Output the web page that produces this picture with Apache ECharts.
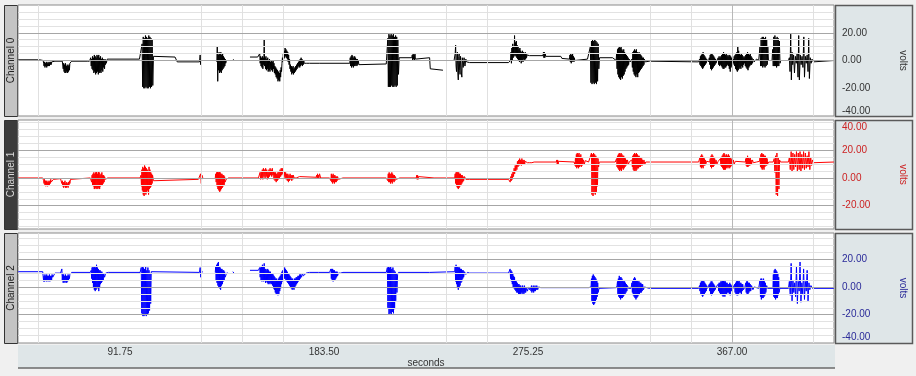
<!DOCTYPE html>
<html>
<head>
<meta charset="utf-8">
<script src="https://cdn.jsdelivr.net/npm/echarts@6/dist/echarts.min.js"></script>
<style>
  html, body { margin: 0; padding: 0; background: #f0f0f0; }
  #chart { width: 916px; height: 376px; }
</style>
</head>
<body>
<div id="chart"></div>
<script>
// Channel names, axis titles and tick labels
const channelNames = ['Channel 0', 'Channel 1', 'Channel 2'];
const channelColors = ['#000000', '#ff0000', '#0000ff'];
const labelColors = ['#333333', '#cc2222', '#2a2a99'];
const xTickValues = [91.75, 183.50, 275.25, 367.00];
const timeRange = [45.875, 412.875];
const timeGridLines = [55.05, 128.45, 146.8, 165.15, 238.55, 256.9, 330.3, 348.65, 403.65];
const timeMajorLines = [367];

// Visible volt window and scale labels of each channel
const voltRanges = [[-40, 40], [-36.8, 41.8], [-40.4, 38.9]];
const voltLabels = [[-40, -20, 0, 20], [-20, 0, 20, 40], [-40, -20, 0, 20]];
const voltMajorLines = [[0, 20], [-20, 0, 20], [-20, 0, 20]];
const voltMinorLines = [
  [5, 10, 15, 25, 30, 35],
  [-35, -30, -25, -15, -10, -5, 5, 10, 15, 25, 30, 35, 40],
  [-35, -30, -25, -15, -10, -5, 5, 10, 15, 25, 30, 35]
];

// Channel 0 samples: [seconds, volts]
const channel0 = [
  [46,0.5],[55.5,0.5],[57.2,0],[57.4,-2],[57.6,-4],[57.8,-1],[58,-5],[58.2,-2],[58.4,-4],[58.6,-1],[58.8,-5],[59,-2],[59.2,-4],[59.4,-1],[59.6,-4],[59.8,-2],[60,-4],[60.2,-1],[60.4,-3],[60.6,-1],[60.8,-3],[61,-1],[61.3,-2],[61.8,-0.5],
  [62.5,-0.5],[65.8,-0.5],[66,-1],[66.2,-6],[66.4,-2],[66.6,-8],[66.8,-3],[67,-9],[67.2,-2],[67.4,-9],[67.6,-4],[67.8,-8],[68,-3],[68.2,-9],[68.4,-4],[68.6,-8],[68.8,-3],[69,-7],[69.2,-2],[69.4,-1],
  [70,-0.5],[77,-0.5],[77.5,-1.5],[78,-0.5],
  [78.6,2],[78.8,-4],[79,1],[79.2,-6],[79.4,3],[79.6,-7],[79.8,2],[80,-9],[80.2,4],[80.4,-8],[80.6,3],[80.8,-10],[81,2],[81.2,-9],[81.4,4],[81.6,-8],[81.8,3],[82,-10],[82.2,4],[82.4,-9],[82.6,2],[82.8,-8],[83,3],[83.2,-9],[83.4,1],[83.6,-7],[83.8,2],[84,-8],[84.2,1],[84.4,-5],[84.6,0],[84.8,-6],[85,1],[85.2,-3],[85.4,0],[85.6,-2],[86,1],
  [86.5,1],[100.5,1],
  [101.7,12],[101.95,-19],[102.2,17],[102.45,-20],[102.7,16],[102.95,-20],[103.2,18],[103.45,-19],[103.7,17],[103.95,-20],[104.2,16],[104.45,-20],[104.7,18],[104.95,-19],[105.2,17],[105.45,-20],[105.7,16],[105.95,-19],[106.2,15],[106.5,-18],[106.8,3],
  [107,2.5],[116.5,2.5],[117.5,-1],[127.5,-1],[127.8,4],[128,-3],[128.3,-1],[128.5,'-'],
  [135.3,-1],[135.5,10],[135.7,-15],[135.9,4],[136.1,-7],[136.3,6],[136.5,-9],[136.7,5],[136.9,-8],[137.1,6],[137.3,-9],[137.5,4],[137.7,-7],[137.9,5],[138.1,-6],[138.3,3],[138.5,-5],[138.7,2],[138.9,-4],[139.1,1],[139.3,-2],[139.6,0],[140,'-'],
  [142.6,1],[142.9,0.5],[143.2,'-'],
  [150.2,2.5],[153.7,2.5],
  [154.4,3],[154.6,5],[154.8,-2],[155,3],[155.2,-4],[155.4,2],[155.6,-5],[155.8,3],[156,-6],[156.2,2],[156.4,-3],[156.6,15],[156.8,-4],[157,2],[157.2,-6],[157.4,3],[157.6,-7],[157.8,1],[158,-6],[158.2,2],[158.4,-8],[158.6,0],[158.8,-7],[159,1],[159.2,-8],[159.4,-1],[159.6,-6],[159.8,0],[160,-7],[160.2,-1],[160.4,-8],[160.6,0],[160.8,-6],[161,-2],[161.2,-9],[161.4,-4],[161.6,-10],[161.8,-5],[162,-12],[162.2,-6],[162.4,-13],[162.6,-7],[162.8,-15],[163,-8],[163.2,-14],[163.4,-9],[163.6,-15],[163.8,-7],[164,-12],[164.2,-5],[164.4,-8],[164.6,-2],[164.8,2],[165,-1],[165.2,5],[165.4,1],[165.6,7],[165.8,2],[166,9],[166.2,3],[166.4,8],[166.6,2],[166.8,7],[167,1],[167.2,6],[167.4,-1],[167.6,4],[167.8,-3],[168,1],[168.2,-6],[168.4,-3],[168.6,-8],[168.8,-4],[169,-10],[169.2,-5],[169.4,-9],[169.6,-4],[169.8,-10],[170,-6],[170.2,-9],[170.4,-5],[170.6,-8],[170.8,-4],[171,-7],[171.2,-3],[171.4,-6],[171.6,-2],[171.8,-5],[172,-1],[172.2,-4],[172.4,0],[172.6,-5],[172.8,1],[173,-4],[173.2,2],[173.4,-3],[173.6,1],[173.8,-4],[174,0],[174.2,-3],[174.4,0],[174.6,-2],[175,-1],[175.5,-2],[176,-1],[177,-2],[181.6,-2],
  [182,-2.5],[195.1,-2],[195.3,2],[195.5,-4],[195.7,3],[195.9,-5],[196.1,4],[196.3,-4],[196.5,3],[196.7,-5],[196.9,2],[197.1,-4],[197.3,3],[197.5,-4],[197.7,2],[197.9,-3],[198.1,1],[198.3,-4],[198.5,1],[198.7,-3],[198.9,0],[199.2,-3],[200,-2.5],[211.5,-2.5],
  [212.2,16],[212.45,-19],[212.7,19],[212.95,-19],[213.2,18],[213.45,-19],[213.7,19],[213.95,-18],[214.2,18],[214.45,-19],[214.7,19],[214.95,-19],[215.2,17],[215.45,-18],[215.7,18],[215.95,-19],[216.2,17],[216.45,-18],[216.7,15],[217,-10],[217.3,2],
  [217.6,2],[223,2],[223.2,4],[223.4,0],[223.6,5],[223.8,1],[224,4],[224.2,0],[224.4,5],[224.6,1],[225,2],[231,2],[231.3,-6],[232,-7],[237,-7],[237.3,'-'],
  [242,0],[242.3,0],[242.5,5],[242.7,11],[242.9,-4],[243.1,-8],[243.3,4],[243.5,6],[243.7,-9],[243.9,-14],[244.1,3],[244.3,5],[244.5,-7],[244.7,-10],[244.9,3],[245.1,4],[245.3,-9],[245.5,-12],[245.7,2],[245.9,3],[246.1,-5],[246.3,-6],[246.5,2],[246.7,1],[246.9,-4],[247.1,-3],[247.3,1],[247.6,-1],[248.1,-1],
  [249,-1.5],[266.5,-1.5],
  [267.4,0],[267.6,6],[267.8,-2],[268,9],[268.2,0],[268.4,12],[268.6,2],[268.8,10],[269,3],[269.2,18],[269.4,4],[269.6,13],[269.8,3],[270,14],[270.2,2],[270.4,11],[270.6,1],[270.8,10],[271,0],[271.2,8],[271.4,-1],[271.6,9],[271.8,0],[272,7],[272.2,-2],[272.4,6],[272.6,0],[272.8,7],[273,-1],[273.2,6],[273.4,1],[273.6,5],[273.8,0],[274,6],[274.2,1],[274.4,5],[274.6,2],[274.8,4],[275.2,3],[275.9,3.5],
  [276.5,3.5],[282,3.5],[282.2,6],[282.4,2],[282.6,6],[282.8,2],[283,5],[283.2,3],[283.6,4],[290,3],
  [290.5,1.5],[293.9,1],[294.1,4],[294.3,-1],[294.5,5],[294.7,-2],[294.9,4],[295.1,-1],[295.3,5],[295.5,0],[295.7,3],[295.9,-1],[296.1,2],[296.3,0],[296.8,1],[302,1],
  [303.3,10],[303.55,-16],[303.8,14],[304.05,-17],[304.3,15],[304.55,-16],[304.8,14],[305.05,-17],[305.3,15],[305.55,-16],[305.8,14],[306.05,-17],[306.3,13],[306.55,-15],[306.8,12],[307.1,-6],[307.4,2],
  [307.6,2],[313.3,2],
  [314.9,0],[315.1,5],[315.3,-6],[315.5,8],[315.7,-10],[315.9,9],[316.1,-12],[316.3,10],[316.5,-13],[316.7,9],[316.9,-14],[317.1,10],[317.3,-12],[317.5,8],[317.7,-13],[317.9,7],[318.1,-11],[318.3,8],[318.5,-10],[318.7,6],[318.9,-8],[319.1,5],[319.3,-6],[319.5,4],[319.7,-5],[319.9,3],[320.1,-4],[320.3,2],[320.5,-3],[320.8,1],[321.2,-1],[321.6,0],[322,1],[322.2,-5],[322.4,6],[322.6,-8],[322.8,7],[323,-10],[323.2,8],[323.4,-11],[323.6,7],[323.8,-12],[324,8],[324.2,-10],[324.4,6],[324.6,-12],[324.8,5],[325,-9],[325.2,6],[325.4,-8],[325.6,5],[325.8,-7],[326,4],[326.2,-6],[326.4,3],[326.6,-5],[326.8,2],[327,-4],[327.2,2],[327.4,-3],[327.6,1],[328,-1],[328.4,0],[329.8,-0.5],
  [330,-1],[352,-1],
  [352.4,1],[352.6,-3],[352.8,3],[353,-4],[353.2,4],[353.4,-5],[353.6,5],[353.8,-6],[354,6],[354.2,-5],[354.4,4],[354.6,-4],[354.8,3],[355,-3],[355.2,2],[355.4,-2],[355.6,1],[356,0],[356.4,-1],[356.8,2],[357,-3],[357.2,4],[357.4,-6],[357.6,5],[357.8,-7],[358,5],[358.2,-6],[358.4,4],[358.6,-5],[358.8,3],[359,-4],[359.2,2],[359.4,-3],[359.6,1],[359.8,-2],[360.2,0],[360.6,-1],[360.8,2],[361,-3],[361.2,3],[361.4,-4],[361.6,2],[361.8,-3],[362,3],[362.2,-4],[362.4,4],[362.6,-5],[362.8,5],[363,-6],[363.2,6],[363.4,-6],[363.6,5],[363.8,-5],[364,4],[364.2,-5],[364.4,5],[364.6,-4],[364.8,3],[365,-3],[365.2,4],[365.4,-4],[365.6,3],[365.8,-6],[366,4],[366.2,-8],[366.4,3],[366.6,-5],[366.8,2],[367,-4],[367.2,2],[367.4,-3],[367.6,1],[367.8,-2],[368,3],[368.2,-4],[368.4,4],[368.6,-6],[368.8,5],[369,-7],[369.2,6],[369.4,-8],[369.6,10],[369.8,-7],[370,7],[370.2,-6],[370.4,5],[370.6,-5],[370.8,4],[371,-6],[371.2,5],[371.4,-4],[371.6,4],[371.8,-5],[372,3],[372.2,-3],[372.4,2],[372.6,-2],[372.8,3],[373,-4],[373.2,4],[373.4,-5],[373.6,5],[373.8,-6],[374,6],[374.2,-7],[374.4,5],[374.6,-5],[374.8,4],[375,-4],[375.2,5],[375.4,-3],[375.6,3],[375.8,-3],[376,2],[376.2,-2],[376.6,1],[377,-1],[378,1],[379,0],
  [379.6,10],[379.85,-4],[380.1,16],[380.35,-4],[380.6,17],[380.85,-5],[381.1,17],[381.35,-4],[381.6,16],[381.85,-5],[382.1,17],[382.35,-4],[382.6,15],[382.85,-3],[383.1,10],[383.4,0],
  [385,0],[385.3,8],[385.55,-4],[385.8,17],[386.05,-4],[386.3,18],[386.55,-4],[386.8,16],[387.05,-5],[387.3,17],[387.55,-4],[387.8,16],[388.05,-4],[388.3,14],[388.6,-2],[388.9,0],
  [392.4,0],[392.8,2],[393.1,-8],[393.4,19],[393.7,-14],[394,6],[394.3,-3],[394.7,4],[395.1,-9],[395.5,3],[395.9,-2],[396.3,5],[396.7,-12],[397,18],[397.3,-14],[397.7,4],[398.1,-3],[398.5,3],[398.9,-5],[399.3,17],[399.6,-12],[400,3],[400.4,-2],[400.8,4],[401.2,-8],[401.5,16],[401.8,-13],[402.2,2],[402.6,-2],[403,1],[403.5,-1],[404,0],
  [412.8,0]
];

// Channel 1 samples: [seconds, volts]
const channel1 = [
  [46,0],[57,0],[57.2,0],[57.4,-2],[57.6,-4],[57.8,-1],[58,-5],[58.2,-2],[58.4,-6],[58.6,-2],[58.8,-5],[59,-3],[59.2,-6],[59.4,-2],[59.6,-5],[59.8,-3],[60,-5],[60.2,-2],[60.4,-4],[60.6,-1],[60.8,-3],[61.2,-2],[61.8,-1],
  [62,-0.5],[65,-0.5],[65.4,-1],[65.6,-4],[65.8,-2],[66,-6],[66.2,-3],[66.4,-7],[66.6,-3],[66.8,-6],[67,-2],[67.2,-7],[67.4,-4],[67.6,-7],[67.8,-3],[68,-6],[68.2,-4],[68.4,-7],[68.6,-3],[68.8,-5],[69,-2],[69.2,-4],[69.5,-1],
  [70,0],[78.4,0],
  [78.8,1],[79,-3],[79.2,2],[79.4,-5],[79.6,3],[79.8,-6],[80,4],[80.2,-8],[80.4,3],[80.6,-7],[80.8,4],[81,-8],[81.2,5],[81.4,-7],[81.6,3],[81.8,-8],[82,5],[82.2,-7],[82.4,4],[82.6,-8],[82.8,2],[83,-6],[83.2,3],[83.4,-5],[83.6,4],[83.8,-5],[84,2],[84.2,-4],[84.4,2],[84.6,-3],[84.8,1],[85.2,-1],[85.8,0],
  [86.2,0],[100.8,0],
  [101.2,2],[101.4,-6],[101.6,6],[101.8,-9],[102,8],[102.2,-12],[102.4,7],[102.6,-13],[102.8,9],[103,-11],[103.2,8],[103.4,-12],[103.6,7],[103.8,-10],[104,6],[104.2,-9],[104.4,5],[104.6,-12],[104.8,8],[105,-8],[105.2,6],[105.4,-7],[105.6,4],[105.8,-6],[106,3],[106.2,-4],[106.4,2],[106.8,-2],[107.2,-1],
  [107.5,-1],[127,-1],[127.6,0],[128,3],[128.3,-4],[128.6,2],[129,0],[129.3,'-'],
  [134.6,0],[134.8,3],[135,-3],[135.2,4],[135.4,-6],[135.6,5],[135.8,-8],[136,4],[136.2,-9],[136.4,5],[136.6,-10],[136.8,4],[137,-9],[137.2,3],[137.4,-8],[137.6,3],[137.8,-7],[138,2],[138.2,-6],[138.4,2],[138.6,-5],[138.8,1],[139,-3],[139.5,-1],[140,0],
  [140.5,0],[154,0],
  [154.5,1],[154.75,4],[155,-1],[155.25,5],[155.5,0],[155.75,6],[156,-1],[156.25,7],[156.5,1],[156.75,6],[157,0],[157.25,7],[157.5,1],[157.75,6],[158,-1],[158.25,5],[158.5,0],[158.75,6],[159,1],[159.25,7],[159.5,2],[159.75,6],[160,1],[160.25,7],[160.5,2],[160.75,5],[161,-1],[161.25,4],[161.5,-2],[161.75,4],[162,-3],[162.25,3],[162.5,-2],[162.75,4],[163,-1],[163.25,5],[163.5,0],[163.75,6],[164,1],[164.25,7],[164.5,2],[164.75,7],[165,3],[165.25,6],[165.5,1],[165.75,5],[166,0],[166.25,4],[166.5,-1],[166.75,3],[167,-2],[167.25,3],[167.5,-3],[167.75,2],[168,-2],[168.25,3],[168.5,-1],[168.75,2],[169,-2],[169.25,2],[169.5,-1],[169.75,2],[170,0],[170.5,1],[171,0],[171.5,1],[172.5,1],
  [173,0.5],[180,0.5],[180.2,2],[180.4,0],[180.6,3],[180.8,0],[181,2],[181.2,0],[181.5,3],[182,0],[186,0],
  [186.4,1],[186.6,-2],[186.8,3],[187,-3],[187.2,2],[187.4,-4],[187.6,3],[187.8,-3],[188,2],[188.2,-4],[188.4,2],[188.6,-3],[188.8,1],[189,-3],[189.2,1],[189.4,-2],[189.6,1],[190,-1],[190.5,0],[192,0],
  [192.5,0],[211.5,0],
  [212,1],[212.2,-2],[212.4,3],[212.6,-3],[212.8,4],[213,-3],[213.2,3],[213.4,-4],[213.6,3],[213.8,-3],[214,4],[214.2,-4],[214.4,3],[214.6,-2],[214.8,2],[215,-3],[215.2,2],[215.4,-2],[215.6,1],[216,-1],[216.5,0],[217.5,0],
  [218,0],[225,0],[225.2,2],[225.4,-1],[225.6,2],[225.8,-1],[226,1],[226.5,0],[233,0],
  [242.3,0],[242.5,3],[242.7,-4],[242.9,4],[243.1,-6],[243.3,5],[243.5,-7],[243.7,4],[243.9,-8],[244.1,4],[244.3,-7],[244.5,3],[244.7,-6],[244.9,3],[245.1,-5],[245.3,2],[245.5,-4],[245.7,2],[245.9,-3],[246.1,1],[246.3,-2],[246.7,1],[247.3,-1],[248,0],
  [249,-1],[266.5,-1],
  [267,-1],[267.25,-3],[267.5,1],[267.75,-2],[268,3],[268.25,-1],[268.5,5],[268.75,1],[269,7],[269.25,3],[269.5,9],[269.75,5],[270,10],[270.25,6],[270.5,12],[270.75,8],[271,13],[271.25,9],[271.5,14],[271.75,10],[272,13],[272.25,9],[272.5,14],[272.75,10],[273,13],[273.25,10],[273.5,13],[273.75,10],[274,12],[274.25,11],[274.5,13],[275,11],[275.5,12],[276,11],[276.5,12],[277,11],[277.5,11.5],
  [278,11.5],[288,11.5],[288.2,13],[288.4,10],[288.6,13],[288.8,10],[289,12],[289.2,11],[289.6,12],[296,11.5],
  [296.2,12],[296.4,9],[296.6,15],[296.8,8],[297,17],[297.2,7],[297.4,18],[297.6,8],[297.8,17],[298,7],[298.2,18],[298.4,8],[298.6,16],[298.8,9],[299,17],[299.2,8],[299.4,15],[299.6,9],[299.8,14],[300,10],[300.2,13],[300.6,10],[301,12.5],[301.5,11.5],[302.5,11.5],
  [303.8,18],[304,-12],[304.25,17],[304.5,-13],[304.75,18],[305,-11],[305.25,17],[305.5,-12],[305.75,16],[306,-10],[306.25,15],[306.5,-6],[306.75,14],[307,8],[307.3,11.5],
  [308,11.5],[314.5,11.5],
  [314.9,11],[315.1,14],[315.3,8],[315.5,16],[315.7,7],[315.9,17],[316.1,6],[316.3,18],[316.5,5],[316.7,17],[316.9,6],[317.1,18],[317.3,5],[317.5,17],[317.7,7],[317.9,16],[318.1,6],[318.3,16],[318.5,7],[318.7,15],[318.9,8],[319.1,14],[319.3,9],[319.5,13],[319.7,10],[320,13],[320.4,10],[321,12],[321.6,11],[322,13],[322.2,8],[322.4,16],[322.6,6],[322.8,17],[323,5],[323.2,18],[323.4,6],[323.6,17],[323.8,5],[324,18],[324.2,6],[324.4,17],[324.6,7],[324.8,16],[325,7],[325.2,16],[325.4,8],[325.6,15],[325.8,8],[326,15],[326.2,9],[326.4,14],[326.6,9],[326.8,13],[327,10],[327.4,13],[327.8,10],[328.2,11.5],[329.8,11.5],
  [330.5,11.5],[352,11.5],
  [352.4,12],[352.6,15],[352.8,8],[353,16],[353.2,7],[353.4,17],[353.6,8],[353.8,16],[354,7],[354.2,15],[354.4,9],[354.6,14],[354.8,9],[355,13],[355.2,10],[355.6,12],[356.2,11],[357,11.5],[357.2,14],[357.4,8],[357.6,16],[357.8,7],[358,17],[358.2,8],[358.4,16],[358.6,8],[358.8,15],[359,9],[359.2,14],[359.4,10],[359.8,13],[360.2,10],[360.8,12],[361.5,11],[361.8,14],[362,9],[362.2,15],[362.4,8],[362.6,16],[362.8,7],[363,17],[363.2,6],[363.4,18],[363.6,6],[363.8,17],[364,6],[364.2,16],[364.4,7],[364.6,17],[364.8,8],[365,16],[365.2,7],[365.4,17],[365.6,8],[365.8,16],[366,7],[366.2,15],[366.4,8],[366.6,14],[366.8,9],[367,13],[367.2,9],[367.6,13],[368,10],[368.5,12],[369,11.5],
  [373,11.5],[373.2,14],[373.4,9],[373.6,15],[373.8,8],[374,16],[374.2,8],[374.4,15],[374.6,9],[374.8,14],[375,9],[375.2,15],[375.4,10],[375.6,13],[375.8,10],[376.2,13],[376.6,11],[377,12],[378,11.5],
  [379.4,12],[379.6,15],[379.8,8],[380,17],[380.2,7],[380.4,18],[380.6,6],[380.8,17],[381,7],[381.2,17],[381.4,6],[381.6,16],[381.8,8],[382,16],[382.2,9],[382.4,15],[382.6,9],[382.8,14],[383,10],[383.5,11.5],
  [385.5,11.5],[386,14],[386.3,4],[386.6,16],[386.9,-12],[387.2,18],[387.5,-13],[387.8,15],[388.1,-8],[388.4,13],[388.8,11.5],
  [392.4,11.5],[392.8,15],[393.2,6],[393.6,19],[394,5],[394.4,18],[394.8,6],[395.2,17],[395.6,8],[396,19],[396.4,5],[396.8,18],[397.2,6],[397.6,19],[398,5],[398.4,17],[398.8,7],[399.2,19],[399.6,6],[400,18],[400.4,7],[400.8,16],[401.2,8],[401.6,19],[402,6],[402.4,15],[402.8,9],[403.2,13],[403.6,11],[404.2,11.5],
  [412.8,11.5]
];

// Channel 2 samples: [seconds, volts]
const channel2 = [
  [46,11],[57,11],[57.2,12],[57.4,4],[57.6,8],[57.8,4],[58,9],[58.2,5],[58.4,8],[58.6,4],[58.8,9],[59,5],[59.2,8],[59.4,4],[59.6,8],[59.8,5],[60,9],[60.2,4],[60.4,8],[60.6,5],[60.8,8],[61,5],[61.2,9],[61.5,7],[61.8,8],
  [62.5,10],[65,10],[65.4,11],[65.6,13],[65.8,5],[66,9],[66.2,3],[66.4,9],[66.6,4],[66.8,8],[67,3],[67.2,9],[67.4,4],[67.6,8],[67.8,3],[68,8],[68.2,4],[68.4,9],[68.6,5],[68.8,8],[69,6],[69.2,9],[69.6,9],
  [70,10.5],[78.4,10.5],
  [78.8,12],[79,6],[79.2,14],[79.4,3],[79.6,15],[79.8,0],[80,14],[80.2,-2],[80.4,15],[80.6,-3],[80.8,14],[81,-2],[81.2,16],[81.4,0],[81.6,14],[81.8,-1],[82,13],[82.2,-3],[82.4,12],[82.6,0],[82.8,12],[83,2],[83.2,11],[83.4,3],[83.6,11],[83.8,4],[84,10],[84.2,5],[84.4,10],[84.8,7],[85.3,10],[86,10.5],
  [86.5,10.5],[100.8,10.5],
  [101.3,14],[101.55,-19],[101.8,15],[102.05,-21],[102.3,14],[102.55,-21],[102.8,13],[103.05,-20],[103.3,15],[103.55,-21],[103.8,12],[104.05,-20],[104.3,14],[104.55,-19],[104.8,12],[105.05,-17],[105.3,10],[105.55,-12],[105.8,11],[106.2,10.5],
  [106.5,10.5],[127.5,10.5],[127.8,14],[128.1,7],[128.4,12],[128.8,10.5],[129,'-'],
  [134.6,10.5],[134.8,15],[135,5],[135.2,16],[135.4,3],[135.6,17],[135.8,1],[136,18],[136.2,0],[136.4,15],[136.6,-1],[136.8,14],[137,-2],[137.2,13],[137.4,1],[137.6,13],[137.8,2],[138,12],[138.2,4],[138.4,12],[138.6,5],[138.8,11],[139,7],[139.5,9],[140,10.5],[140.3,'-'],
  [142.5,11],[143,10],[143.3,'-'],
  [150.2,12],[154,12],
  [154.4,12],[154.6,14],[154.8,7],[155,14],[155.2,5],[155.4,15],[155.6,4],[155.8,16],[156,5],[156.2,15],[156.4,4],[156.6,17],[156.8,5],[157,13],[157.2,3],[157.4,13],[157.6,4],[157.8,12],[158,3],[158.2,13],[158.4,2],[158.6,12],[158.8,3],[159,11],[159.2,2],[159.4,11],[159.6,3],[159.8,10],[160,2],[160.2,10],[160.4,1],[160.6,9],[160.8,-1],[161,8],[161.2,-2],[161.4,7],[161.6,-4],[161.8,6],[162,-5],[162.2,6],[162.4,-5],[162.6,5],[162.8,-6],[163,6],[163.2,-5],[163.4,7],[163.6,-3],[163.8,8],[164,-1],[164.2,9],[164.4,2],[164.6,11],[164.8,4],[165,12],[165.2,5],[165.4,13],[165.6,6],[165.8,14],[166,6],[166.2,13],[166.4,5],[166.6,12],[166.8,4],[167,11],[167.2,3],[167.4,10],[167.6,2],[167.8,9],[168,1],[168.2,8],[168.4,0],[168.6,7],[168.8,-1],[169,6],[169.2,-2],[169.4,6],[169.6,-1],[169.8,5],[170,-2],[170.2,6],[170.4,0],[170.6,6],[170.8,1],[171,7],[171.2,2],[171.4,7],[171.6,3],[171.8,8],[172,4],[172.2,8],[172.4,5],[172.6,9],[172.8,6],[173,9],[173.4,7],[173.8,10],[174.2,8],[174.6,9],[175.5,10],[177,10.5],
  [181,10.5],[186,10.5],
  [186.4,11],[186.6,13],[186.8,6],[187,13],[187.2,5],[187.4,13],[187.6,4],[187.8,12],[188,5],[188.2,12],[188.4,5],[188.6,11],[188.8,6],[189,11],[189.2,7],[189.4,11],[189.6,8],[190,10],[190.5,9],[191,10],[192,10.5],
  [192.5,10.5],[211.5,10.5],
  [212,14],[212.25,-15],[212.5,15],[212.75,-20],[213,14],[213.25,-19],[213.5,15],[213.75,-20],[214,13],[214.25,-18],[214.5,14],[214.75,-19],[215,12],[215.25,-16],[215.5,11],[215.75,-10],[216,10],[216.3,-4],[216.6,9],[217,10.5],
  [217.5,10.5],[231,10.5],
  [242.3,11],[242.5,15],[242.7,4],[242.9,16],[243.1,2],[243.3,15],[243.5,0],[243.7,15],[243.9,-2],[244.1,14],[244.3,0],[244.5,14],[244.7,1],[244.9,13],[245.1,3],[245.3,13],[245.5,4],[245.7,12],[245.9,6],[246.1,12],[246.3,7],[246.7,11],[247.3,9],[248,10.5],
  [249,10],[266.5,10],
  [267,10],[267.2,13],[267.4,6],[267.6,12],[267.8,4],[268,11],[268.2,2],[268.4,10],[268.6,0],[268.8,8],[269,-1],[269.2,7],[269.4,-2],[269.6,5],[269.8,-3],[270,4],[270.2,-4],[270.4,3],[270.6,-4],[270.8,2],[271,-5],[271.2,2],[271.4,-5],[271.6,1],[271.8,-5],[272,1],[272.2,-4],[272.4,0],[272.6,-5],[272.8,1],[273,-4],[273.2,0],[273.4,-5],[273.6,1],[273.8,-4],[274,0],[274.2,-4],[274.6,-1],[275,-3],[275.5,0],[276,-2],
  [276.4,0],[276.6,-3],[276.8,1],[277,-4],[277.2,0],[277.4,-3],[277.6,1],[277.8,-4],[278,0],[278.2,-3],[278.4,1],[278.6,-3],[278.8,0],[279,-2],[279.2,1],[279.6,-2],[280,0],[280.5,-1],[281,-0.5],[282,-0.5],[302.5,-0.5],
  [303.6,0],[303.8,6],[304,-10],[304.2,8],[304.4,-12],[304.6,9],[304.8,-13],[305,8],[305.2,-12],[305.4,7],[305.6,-11],[305.8,6],[306,-9],[306.2,5],[306.4,-7],[306.6,3],[306.8,-4],[307.2,-1],
  [307.8,-0.5],[315,-0.5],
  [315.3,1],[315.5,4],[315.7,-5],[315.9,6],[316.1,-7],[316.3,8],[316.5,-8],[316.7,7],[316.9,-9],[317.1,7],[317.3,-8],[317.5,6],[317.7,-8],[317.9,5],[318.1,-7],[318.3,4],[318.5,-6],[318.7,4],[318.9,-5],[319.1,3],[319.3,-4],[319.5,2],[319.7,-3],[320,1],[320.4,-1],[321,0],[321.6,-1],[322,3],[322.2,-4],[322.4,5],[322.6,-6],[322.8,6],[323,-7],[323.2,7],[323.4,-8],[323.6,6],[323.8,-9],[324,5],[324.2,-8],[324.4,5],[324.6,-7],[324.8,4],[325,-6],[325.2,4],[325.4,-5],[325.6,3],[325.8,-4],[326,3],[326.2,-4],[326.4,2],[326.6,-3],[326.8,2],[327.2,-2],[327.6,0],[328.2,-1],[329.8,-1],
  [330.5,-1],[352,-1],
  [352.4,1],[352.6,-3],[352.8,3],[353,-5],[353.2,4],[353.4,-6],[353.6,5],[353.8,-7],[354,5],[354.2,-6],[354.4,4],[354.6,-5],[354.8,3],[355,-4],[355.2,2],[355.4,-3],[355.6,1],[356,-1],[356.5,0],[356.8,2],[357,-3],[357.2,3],[357.4,-5],[357.6,4],[357.8,-6],[358,4],[358.2,-5],[358.4,3],[358.6,-4],[358.8,2],[359,-3],[359.2,1],[359.4,-2],[359.8,0],[360.4,-1],[360.8,2],[361,-3],[361.2,3],[361.4,-4],[361.6,3],[361.8,-5],[362,4],[362.2,-5],[362.4,4],[362.6,-6],[362.8,5],[363,-7],[363.2,5],[363.4,-6],[363.6,4],[363.8,-7],[364,4],[364.2,-5],[364.4,3],[364.6,-5],[364.8,3],[365,-4],[365.2,2],[365.4,-4],[365.6,2],[365.8,-5],[366,3],[366.2,-6],[366.4,2],[366.6,-3],[366.8,1],[367,-3],[367.4,1],[367.8,-1],[368.2,2],[368.4,-4],[368.6,3],[368.8,-5],[369,4],[369.2,-6],[369.4,5],[369.6,-6],[369.8,4],[370,-5],[370.2,5],[370.4,-4],[370.6,3],[370.8,-4],[371,3],[371.2,-5],[371.4,2],[371.6,-3],[371.8,2],[372.2,-2],[372.8,0],[373.2,3],[373.4,-4],[373.6,4],[373.8,-5],[374,4],[374.2,-5],[374.4,3],[374.6,-4],[374.8,3],[375,-3],[375.2,2],[375.4,-3],[375.8,1],[376.4,-2],[377,0],[379,-1],
  [379.4,0],[379.6,5],[379.8,-7],[380,6],[380.2,-9],[380.4,6],[380.6,-8],[380.8,5],[381,-8],[381.2,6],[381.4,-7],[381.6,4],[381.8,-6],[382,3],[382.2,-4],[382.6,1],[383,-1],
  [385.4,-1],[385.6,9],[385.8,-7],[386,12],[386.2,-8],[386.4,13],[386.6,-9],[386.8,12],[387,-8],[387.2,11],[387.4,-8],[387.6,10],[387.8,-6],[388,7],[388.2,-4],[388.5,-1],[389,-0.5],
  [392.4,-1],[392.8,4],[393.2,-6],[393.6,17],[394,-10],[394.4,5],[394.8,-4],[395.2,3],[395.6,-7],[396,15],[396.4,-12],[396.8,4],[397.2,-3],[397.6,18],[398,-11],[398.4,3],[398.8,-5],[399.2,13],[399.6,-9],[400,4],[400.4,-3],[400.8,12],[401.2,-10],[401.6,3],[402,-2],[402.5,1],[403.2,-1],[404,-0.5],
  [412.8,-1]
];

const channels = [channel0, channel1, channel2];

// Panel layout (pixels)
const plotLeft = 18, plotWidth = 817;
const panels = [
  { top: 5, height: 111 },
  { top: 120, height: 109 },
  { top: 233, height: 110 }
];
const FONT = 'Liberation Sans, Arial, sans-serif';

const chart = echarts.init(document.getElementById('chart'), null, { renderer: 'canvas' });

const grids = [], xAxes = [], yAxes = [], series = [], graphics = [];

panels.forEach((p, i) => {
  grids.push({
    left: plotLeft, width: plotWidth, top: p.top, height: p.height,
    show: true, backgroundColor: '#ffffff', borderColor: '#8a8a8a', borderWidth: 1
  });
  const isBottom = i === panels.length - 1;
  xAxes.push({
    gridIndex: i, type: 'value', min: timeRange[0], max: timeRange[1],
    axisLine: { show: false }, axisTick: { show: false }, splitLine: { show: false },
    axisLabel: {
      show: isBottom, customValues: xTickValues, margin: 4,
      color: '#333', fontSize: 10, fontFamily: FONT,
      formatter: v => v.toFixed(2)
    },
    name: isBottom ? 'seconds' : '', nameLocation: 'middle', nameGap: 15,
    nameTextStyle: { color: '#333', fontSize: 10, fontFamily: FONT }
  });
  yAxes.push({
    gridIndex: i, type: 'value', position: 'right',
    min: voltRanges[i][0], max: voltRanges[i][1],
    axisLine: { show: false }, axisTick: { show: false }, splitLine: { show: false },
    axisLabel: {
      customValues: voltLabels[i],
      color: labelColors[i], fontSize: 10, fontFamily: FONT, margin: 8,
      verticalAlignMinLabel: i === 1 ? 'middle' : 'bottom',
      verticalAlignMaxLabel: i === 1 ? 'top' : 'middle',
      formatter: v => v.toFixed(2)
    },
    name: 'volts', nameLocation: 'middle', nameRotate: -90, nameGap: 64,
    nameTextStyle: { color: labelColors[i], fontSize: 10, fontFamily: FONT },
    z: 3
  });
  // background grid: minor/major volt lines and time lines
  const gridLines = []
    .concat(voltMinorLines[i].map(v => ({ yAxis: v, lineStyle: { color: '#e2e2e2' } })))
    .concat(timeGridLines.map(t => ({ xAxis: t, lineStyle: { color: '#e0e0e0' } })))
    .concat(voltMajorLines[i].map(v => ({ yAxis: v, lineStyle: { color: '#a6a6a6' } })))
    .concat(timeMajorLines.map(t => ({ xAxis: t, lineStyle: { color: '#b8b8b8' } })));
  series.push({
    type: 'line', xAxisIndex: i, yAxisIndex: i, data: [], z: 1, silent: true,
    markLine: {
      silent: true, symbol: 'none', animation: false, label: { show: false },
      lineStyle: { width: 1, type: 'solid' },
      emphasis: { disabled: true },
      data: gridLines
    }
  });
  series.push({
    name: channelNames[i], type: 'line', xAxisIndex: i, yAxisIndex: i,
    data: channels[i], showSymbol: false, symbol: 'none', z: 2,
    lineStyle: { color: channelColors[i], width: 1 },
    connectNulls: false, animation: false
  });

  // channel label tab on the left
  const selected = i === 1;
  graphics.push({
    type: 'rect', z: -1,
    shape: { x: 4.5, y: p.top + 0.5, width: 13, height: p.height },
    style: { fill: selected ? '#3c3c3c' : '#c4c4c4', stroke: '#333', lineWidth: 1 }
  });
  graphics.push({
    type: 'text', z: 1, x: 11, y: p.top + p.height / 2, rotation: Math.PI / 2,
    style: {
      text: channelNames[i], fill: selected ? '#d8d8d8' : '#222',
      font: '10px "Liberation Sans", Arial, sans-serif', align: 'center', verticalAlign: 'middle'
    }
  });
  // value scale box on the right
  graphics.push({
    type: 'rect', z: -1,
    shape: { x: 835.5, y: p.top + 0.5, width: 77, height: p.height },
    style: { fill: '#dfe6e8', stroke: '#5a5a5a', lineWidth: 1.5 }
  });
});

// time scale strip under the bottom panel
graphics.push({
  type: 'rect', z: -1,
  shape: { x: 18, y: 345, width: 817, height: 23 },
  style: { fill: '#dfe6e8', stroke: null }
});
graphics.push({
  type: 'line', z: -1,
  shape: { x1: 18, y1: 368, x2: 835, y2: 368 },
  style: { stroke: '#6a6a6a', lineWidth: 1.5 }
});

chart.setOption({
  animation: false,
  backgroundColor: '#f0f0f0',
  grid: grids,
  xAxis: xAxes,
  yAxis: yAxes,
  series: series,
  graphic: { elements: graphics }
});
</script>
</body>
</html>
